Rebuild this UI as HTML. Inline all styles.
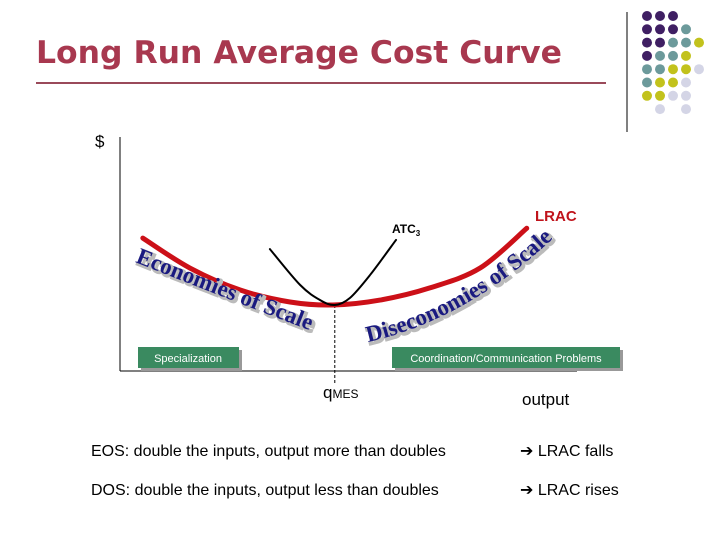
<!DOCTYPE html>
<html><head><meta charset="utf-8"><style>
body{margin:0;background:#fff}
svg{display:block}
</style></head><body>
<svg width="720" height="540" viewBox="0 0 720 540" xmlns="http://www.w3.org/2000/svg">
<text x="36" y="63" font-family="DejaVu Sans, sans-serif" font-weight="bold" font-size="31" fill="#a8384f" textLength="526" lengthAdjust="spacingAndGlyphs">Long Run Average Cost Curve</text>
<line x1="36" y1="83" x2="606" y2="83" stroke="#9a4a5a" stroke-width="2"/>
<line x1="627" y1="12" x2="627" y2="132" stroke="#000" stroke-width="1"/>
<g id="dots"></g>

<text x="95" y="147" font-family="Liberation Sans, sans-serif" font-size="17">$</text>
<line x1="120" y1="137" x2="120" y2="371" stroke="#000" stroke-width="1"/>
<line x1="120" y1="371" x2="577" y2="371" stroke="#000" stroke-width="1"/>
<g id="plot"></g>

<defs>
<path id="eosPath" d="M135,262 Q230,300 330,338"/>
<path id="dosPath" d="M368,342 Q475,318 570,222"/>
</defs>
<g font-family="Liberation Serif, serif" font-weight="bold" font-size="23">
<text fill="#fff" stroke="#bbb" stroke-width="3" transform="translate(2,2)"><textPath href="#eosPath">Economies of Scale</textPath></text>
<text fill="#1a1a80"><textPath href="#eosPath">Economies of Scale</textPath></text>
<text fill="#fff" stroke="#bbb" stroke-width="3" transform="translate(2,2)"><textPath href="#dosPath">Diseconomies of Scale</textPath></text>
<text fill="#1a1a80"><textPath href="#dosPath">Diseconomies of Scale</textPath></text>
</g>

<text x="392" y="233" font-family="Liberation Sans, sans-serif" font-weight="bold" font-size="12">ATC<tspan font-size="8" dy="3">3</tspan></text>
<text x="535" y="221" font-family="Liberation Sans, sans-serif" font-weight="bold" font-size="15" fill="#c0141c">LRAC</text>

<rect x="141" y="350" width="101" height="21" fill="#999"/>
<rect x="138" y="347" width="101" height="21" fill="#3a8a60"/>
<text x="188" y="362" text-anchor="middle" font-family="Liberation Sans, sans-serif" font-size="11" fill="#fff">Specialization</text>
<rect x="395" y="350" width="228" height="21" fill="#999"/>
<rect x="392" y="347" width="228" height="21" fill="#3a8a60"/>
<text x="506" y="362" text-anchor="middle" font-family="Liberation Sans, sans-serif" font-size="11" fill="#fff">Coordination/Communication Problems</text>

<text x="323" y="398" font-family="Liberation Sans, sans-serif" font-size="17">q<tspan font-size="12">MES</tspan></text>
<text x="522" y="405" font-family="Liberation Sans, sans-serif" font-size="17">output</text>

<g font-family="Liberation Sans, sans-serif" font-size="16">
<text x="91" y="456">EOS: double the inputs, output more than doubles</text>
<text x="520" y="456">➔ LRAC falls</text>
<text x="91" y="495">DOS: double the inputs, output less than doubles</text>
<text x="520" y="495">➔ LRAC rises</text>
</g>
</svg>
<script>
// data units: output 0..100 along x, cost 0..100 along y
const lracOutput=[5,15.3,26.3,37.2,46.6,56.9,67.8,78.8,89];
const lracCost=[56.8,44,34.6,29.5,28.2,30.3,35.5,44,61];
const atcOutput=[32.8,39.4,43.8,47,50.3,54.7,60.4];
const atcCost=[52.1,36.8,30.3,28.2,31.2,41,56];
const qMes=47;
const qMesCost=28.2;
const dotRows=[['P','P','P'],['P','P','P','T'],['P','P','T','T','Y'],['P','T','T','Y'],['T','T','Y','Y','L'],['T','Y','Y','L'],['Y','Y','L','L'],['','L','','L']];
const X0=120,Y0=371;
const sx=v=>X0+v*4.57;
const sy=v=>Y0-v*2.34;
const ns='http://www.w3.org/2000/svg';
const plot=document.getElementById('plot');
function curve(xs,ys,color,w,name){
  const pts=xs.map((x,i)=>[sx(x),sy(ys[i])]);
  let d='M'+pts[0];
  for(let i=0;i<pts.length-1;i++){
    const p0=pts[i-1]||pts[i],p1=pts[i],p2=pts[i+1],p3=pts[i+2]||p2;
    const c1=[p1[0]+(p2[0]-p0[0])/6,p1[1]+(p2[1]-p0[1])/6];
    const c2=[p2[0]-(p3[0]-p1[0])/6,p2[1]-(p3[1]-p1[1])/6];
    d+=' C'+c1+' '+c2+' '+p2;
  }
  const p=document.createElementNS(ns,'path');
  p.setAttribute('d',d);p.setAttribute('fill','none');p.setAttribute('stroke',color);p.setAttribute('stroke-width',w);p.setAttribute('stroke-linecap','round');
  
  
  plot.appendChild(p);
}
const dl=document.createElementNS(ns,'line');
dl.setAttribute('x1',sx(qMes));dl.setAttribute('x2',sx(qMes));dl.setAttribute('y1',sy(qMesCost));dl.setAttribute('y2',384);
dl.setAttribute('stroke','#000');dl.setAttribute('stroke-dasharray','3,2');


plot.appendChild(dl);
curve(lracOutput,lracCost,'#cc1018',5,'lrac-curve');
curve(atcOutput,atcCost,'#000',2,'atc3-curve');
const cmap={P:'#3f1f63',T:'#6c9a9b',Y:'#c2c21c',L:'#d4d5e6'};
const dots=document.getElementById('dots');
dotRows.forEach((row,r)=>row.forEach((c,k)=>{
  if(!c)return;
  const e=document.createElementNS(ns,'circle');
  e.setAttribute('cx',647+k*13);e.setAttribute('cy',16+r*13.3);e.setAttribute('r',5);e.setAttribute('fill',cmap[c]);
  
  
  dots.appendChild(e);
}));
</script>
</body></html>
